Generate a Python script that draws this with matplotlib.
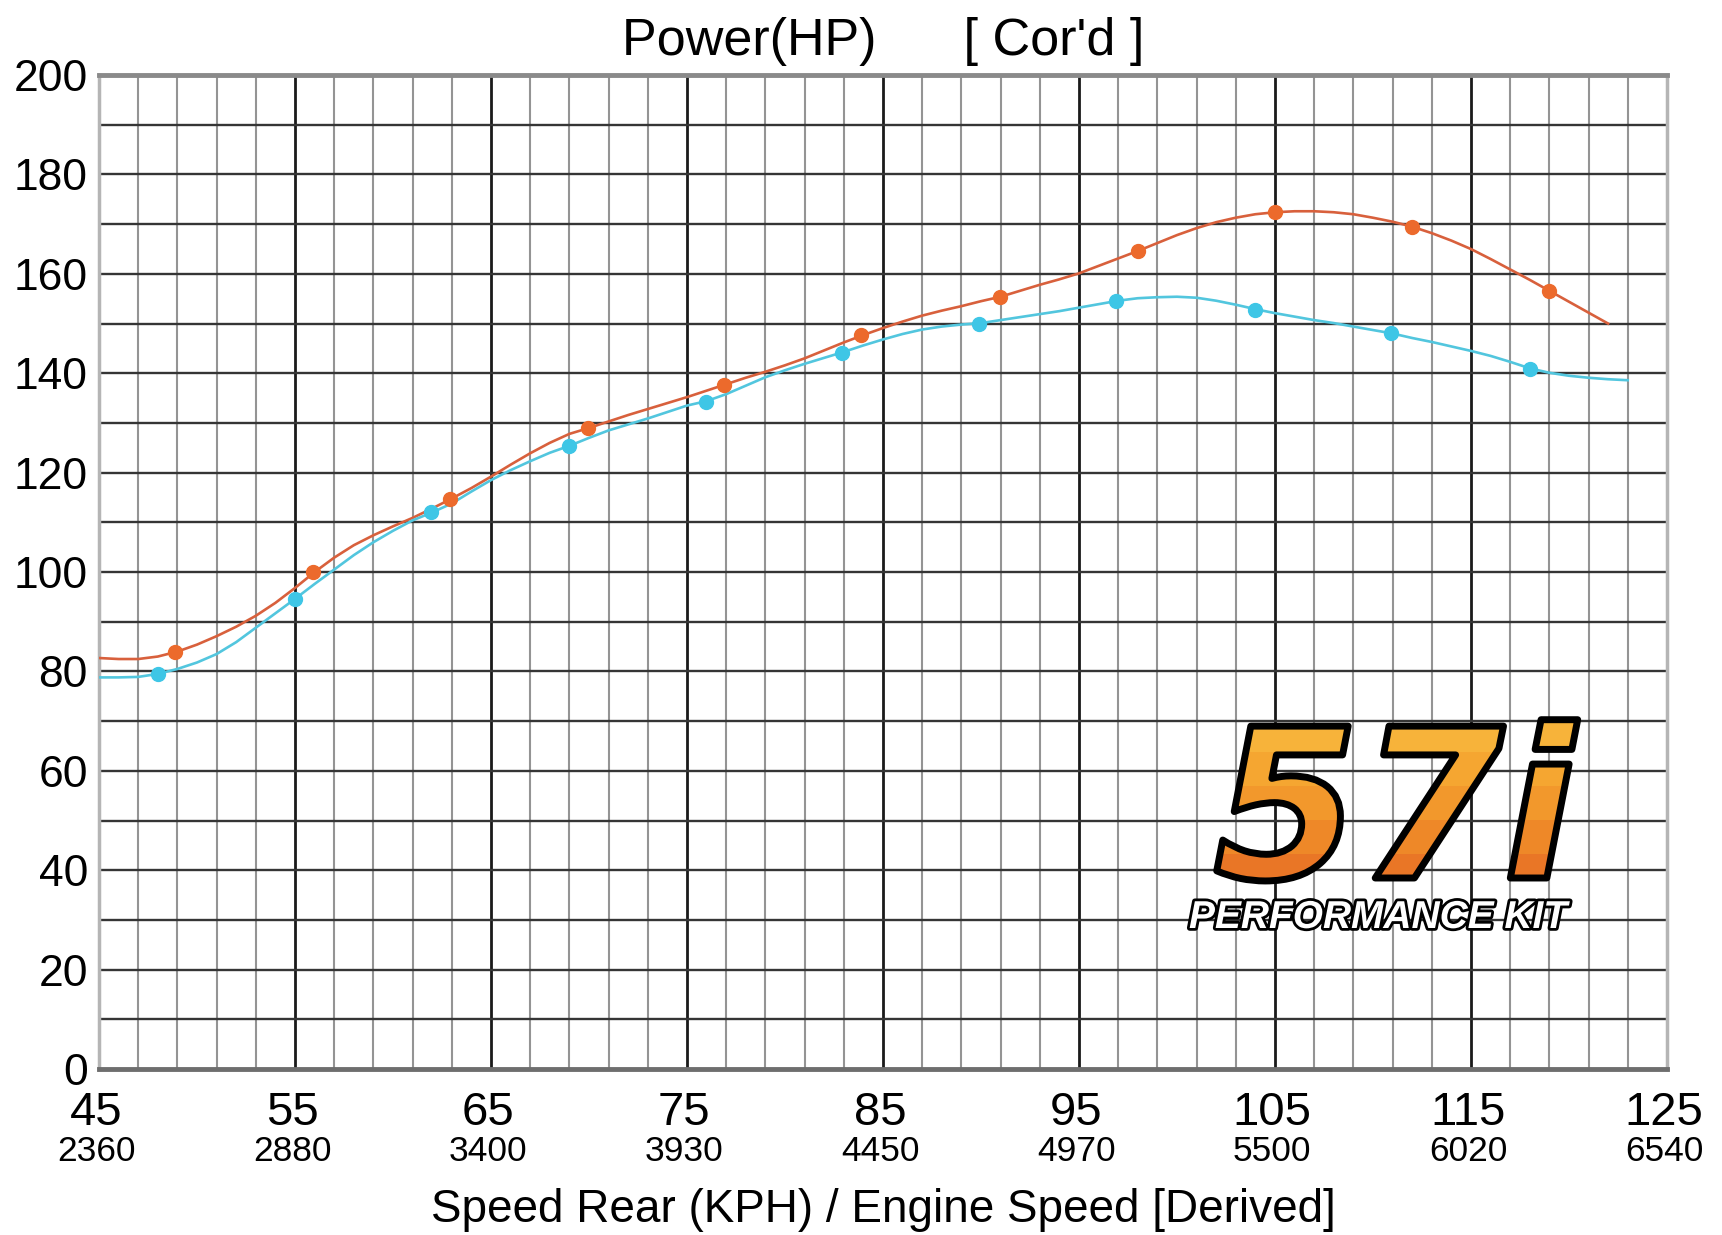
import numpy as np
import matplotlib.pyplot as plt
import matplotlib.patheffects as pe
from matplotlib.patches import PathPatch
from matplotlib.textpath import TextPath
from matplotlib.font_manager import FontProperties
from matplotlib.transforms import IdentityTransform

plt.rcParams['font.family'] = ['Liberation Sans', 'DejaVu Sans']

# axis labels
speed_ticks = [45, 55, 65, 75, 85, 95, 105, 115, 125]
rpm_labels = ['2360', '2880', '3400', '3930', '4450', '4970', '5500', '6020', '6540']
hp_ticks = [0, 20, 40, 60, 80, 100, 120, 140, 160, 180, 200]

# orange run - trace, 1 kph steps
orange_line_x = list(range(45, 123))
orange_line_y = [82.7, 82.5, 82.5, 83.0, 84.0, 85.4, 87.1, 89.0, 91.2, 93.8,
                 96.8, 100.0, 102.9, 105.4, 107.4, 109.2, 110.9, 112.8, 114.8, 116.9,
                 119.2, 121.6, 123.9, 126.0, 127.8, 129.0, 130.3, 131.6, 132.8, 134.0,
                 135.2, 136.5, 137.8, 139.1, 140.3, 141.6, 143.0, 144.6, 146.2, 147.7,
                 149.1, 150.4, 151.6, 152.6, 153.5, 154.5, 155.4, 156.6, 157.8, 158.9,
                 160.1, 161.6, 163.1, 164.6, 166.2, 167.8, 169.2, 170.4, 171.3, 172.0,
                 172.4, 172.6, 172.6, 172.4, 172.0, 171.3, 170.5, 169.5, 168.2, 166.7,
                 165.0, 163.0, 160.9, 158.8, 156.6, 154.4, 152.2, 150.0]
orange_pts_x = [48.9, 55.9, 62.9, 69.95, 76.9, 83.9, 90.95, 98.0, 105.0, 112.0, 119.0]
orange_pts_y = [84.0, 100.0, 114.8, 129.0, 137.6, 147.7, 155.3, 164.6, 172.4, 169.5, 156.6]

# cyan run
cyan_line_x = list(range(45, 124))
cyan_line_y = [78.8, 78.8, 78.9, 79.5, 80.5, 81.8, 83.5, 85.9, 88.8, 91.7,
               94.6, 97.6, 100.5, 103.4, 106.0, 108.3, 110.4, 112.0, 113.8, 116.2,
               118.5, 120.5, 122.3, 124.0, 125.4, 127.0, 128.5, 129.7, 130.9, 132.2,
               133.5, 134.4, 135.8, 137.5, 139.2, 140.6, 141.9, 143.1, 144.3, 145.6,
               146.8, 147.9, 148.8, 149.4, 149.8, 150.1, 150.7, 151.3, 151.9, 152.5,
               153.2, 153.9, 154.6, 155.1, 155.3, 155.4, 155.2, 154.6, 153.8, 152.9,
               152.1, 151.4, 150.7, 150.1, 149.4, 148.7, 148.0, 147.1, 146.3, 145.4,
               144.5, 143.5, 142.3, 141.0, 140.1, 139.5, 139.1, 138.8, 138.6]
cyan_pts_x = [48.0, 55.0, 61.95, 69.0, 75.95, 82.9, 89.9, 96.9, 104.0, 110.9, 118.0]
cyan_pts_y = [79.5, 94.6, 112.0, 125.4, 134.3, 144.1, 150.0, 154.6, 152.8, 148.1, 140.8]

fig = plt.figure(figsize=(17.22, 12.35), dpi=100)
ax = fig.add_axes([0.0575, 0.1344, 0.9105, 0.8048])
ax.set_xlim(45, 125)
ax.set_ylim(0, 200)

########################################## graph paper
for v in range(47, 125, 2):
    if (v - 55) % 10 == 0:
        ax.axvline(v, color='#1a1a1a', lw=2.0, zorder=1)
    else:
        ax.axvline(v, color='#949494', lw=1.5, zorder=1)
for h in range(10, 200, 10):
    ax.axhline(h, color='#353535', lw=1.7, zorder=1)

for side in ['left', 'right']:
    ax.spines[side].set_color('#b5b5b5')
    ax.spines[side].set_linewidth(2.5)
ax.spines['top'].set_color('#8a8a8a')
ax.spines['top'].set_linewidth(3.5)
ax.spines['bottom'].set_color('#6e6e6e')
ax.spines['bottom'].set_linewidth(3.5)

########################################## curves
ax.plot(orange_line_x, orange_line_y, color='#d8603c', lw=1.9, zorder=3)
ax.plot(orange_pts_x, orange_pts_y, 'o', color='#ec6a2c', ms=10, zorder=4)
ax.plot(cyan_line_x, cyan_line_y, color='#52c6de', lw=1.9, zorder=3)
ax.plot(cyan_pts_x, cyan_pts_y, 'o', color='#3ec6e6', ms=10, zorder=4)

########################################## ticks and labels
ax.set_yticks(hp_ticks)
ax.set_yticklabels([str(v) for v in hp_ticks], fontsize=32)
ax.tick_params(axis='y', length=0, pad=8)
ax.set_xticks([])

for s, r in zip(speed_ticks, rpm_labels):
    ax.annotate(str(s), xy=(s, 0), xycoords=('data', 'axes fraction'), xytext=(-2, -40),
                textcoords='offset points', ha='center', va='baseline', fontsize=34)
    ax.annotate(r, xy=(s, 0), xycoords=('data', 'axes fraction'), xytext=(-2, -66),
                textcoords='offset points', ha='center', va='baseline', fontsize=25.5)

fig.text(0.513, 1 - 1222 / 1235, 'Speed Rear (KPH) / Engine Speed [Derived]', ha='center',
         va='baseline', fontsize=33)
fig.text(0.513, 1 - 55 / 1235, "Power(HP)      [ Cor'd ]", ha='center', va='baseline', fontsize=37.5)

########################################## 57i logo
logo_fp = FontProperties(family='DejaVu Sans', weight='bold', style='italic', size=150)
lx, ly = 1214, 1235 - 878          # baseline start, pixels from bottom left
glyphs = TextPath((lx, ly), '57i', size=150 * 100 / 72, prop=logo_fp)
band_colors = ['#f7b33a', '#f5a631', '#f2982c', '#ee8828', '#e97626']
rows = []
for c in band_colors:
    rgb = [int(c[k:k + 2], 16) / 255 for k in (1, 3, 5)]
    rows += [rgb] * 34
shade = np.repeat(np.array(rows)[:, None, :], 440, axis=1)
im = fig.figimage(shade, xo=1186, yo=ly - 10, origin='upper', zorder=5)
im.set_clip_path(PathPatch(glyphs, transform=IdentityTransform()))
fig.text(lx / 1722, ly / 1235, '57i', fontproperties=logo_fp, color='none', ha='left',
         va='baseline', zorder=6, path_effects=[pe.Stroke(linewidth=5, foreground='black')])

fig.text(1378 / 1722, 1 - 928 / 1235, 'PERFORMANCE KIT', color='white', ha='center', va='baseline',
         fontsize=28, family='Liberation Sans', weight='bold', style='italic',
         zorder=6, path_effects=[pe.Stroke(linewidth=4, foreground='black'), pe.Normal()])

fig.savefig('out.png', dpi=100, facecolor='white')
